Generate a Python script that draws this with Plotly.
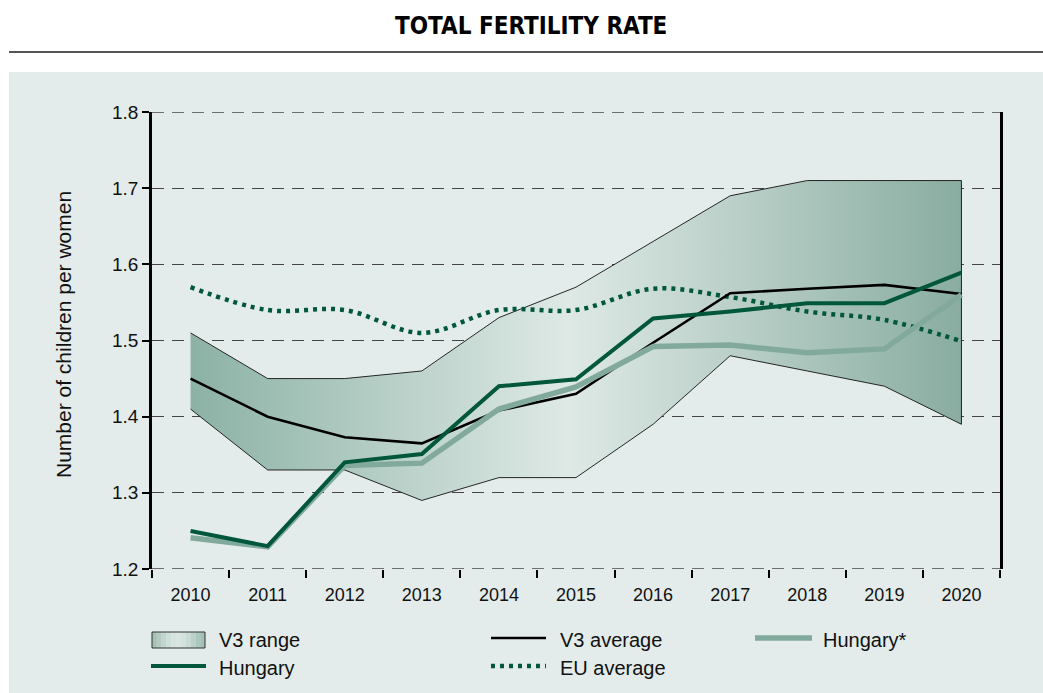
import plotly.graph_objects as go

# ---------------- data ----------------
years = [2010, 2011, 2012, 2013, 2014, 2015, 2016, 2017, 2018, 2019, 2020]
v3_upper = [1.51, 1.45, 1.45, 1.46, 1.53, 1.57, 1.63, 1.69, 1.71, 1.71, 1.71]
v3_lower = [1.41, 1.33, 1.33, 1.29, 1.32, 1.32, 1.39, 1.48, 1.46, 1.44, 1.39]
v3_avg = [1.45, 1.40, 1.373, 1.365, 1.408, 1.43, 1.497, 1.562, 1.568, 1.573, 1.561]
hungary = [1.25, 1.23, 1.34, 1.351, 1.44, 1.449, 1.529, 1.538, 1.549, 1.549, 1.589]
hungary_star = [1.241, 1.229, 1.336, 1.339, 1.41, 1.439, 1.492, 1.494, 1.484, 1.489, 1.56]
eu_avg = [1.57, 1.54, 1.54, 1.51, 1.54, 1.54, 1.568, 1.557, 1.538, 1.527, 1.499]
y_ticks = [1.2, 1.3, 1.4, 1.5, 1.6, 1.7, 1.8]
y_ticklabels = ["1.2", "1.3", "1.4", "1.5", "1.6", "1.7", "1.8"]

title_text = "TOTAL FERTILITY RATE"
y_title = "Number of children per women"
legend_labels = ["V3 range", "V3 average", "Hungary*", "Hungary", "EU average"]

# ---------------- styles ----------------
W, H = 1043, 693
ML, MR, MT, MB = 152, 43, 112, 124
PW, PH = W - ML - MR, H - MT - MB
FONT = "Liberation Sans, Arial, Helvetica, sans-serif"
PANEL = "#e3ecea"
DARK_GREEN = "#00573b"
LIGHT_GREEN = "#82aa9c"
GRID = "#454545"
BAND_SCALE = [[0.0, "#8cb2a5"], [0.49, "#dee9e5"], [1.0, "#89ada0"]]


def px_x(p):
    return (p - ML) / PW


def px_y(p):
    return (H - MB - p) / PH


fig = go.Figure()

# V3 range band
fig.add_trace(go.Scatter(
    x=years + years[::-1],
    y=v3_upper + v3_lower[::-1],
    fill="toself",
    fillgradient=dict(type="horizontal", colorscale=BAND_SCALE,
                      start=years[0], stop=years[-1]),
    line=dict(color="#111111", width=0.9),
    mode="lines", name=legend_labels[0], showlegend=False, hoverinfo="skip",
))

# EU average (dotted, smooth)
fig.add_trace(go.Scatter(
    x=years, y=eu_avg, mode="lines", name=legend_labels[4],
    line=dict(color=DARK_GREEN, width=4.5, dash="4px,5px", shape="spline", smoothing=1.0),
    showlegend=False,
))
# V3 average
fig.add_trace(go.Scatter(
    x=years, y=v3_avg, mode="lines", name=legend_labels[1],
    line=dict(color="#000000", width=2.6), showlegend=False,
))
# Hungary*
fig.add_trace(go.Scatter(
    x=years, y=hungary_star, mode="lines", name=legend_labels[2],
    line=dict(color=LIGHT_GREEN, width=5.5), showlegend=False,
))
# Hungary
fig.add_trace(go.Scatter(
    x=years, y=hungary, mode="lines", name=legend_labels[3],
    line=dict(color=DARK_GREEN, width=4), showlegend=False,
))

shapes = []
# panel background
shapes.append(dict(type="rect", xref="paper", yref="paper",
                   x0=px_x(9), x1=px_x(W + 2), y0=px_y(H + 2), y1=px_y(72),
                   fillcolor=PANEL, line=dict(width=0), layer="below"))
# rule under title
shapes.append(dict(type="line", xref="paper", yref="paper",
                   x0=px_x(9), x1=px_x(W + 2), y0=px_y(52), y1=px_y(52),
                   line=dict(color="#555555", width=2.2)))
# dashed grid lines at the axis limits (Plotly omits them at the edges)
for yv in (y_ticks[0], y_ticks[-1]):
    shapes.append(dict(type="line", xref="paper", yref="y", x0=0, x1=1, y0=yv, y1=yv,
                       line=dict(color=GRID, width=1.3, dash="12px,8px"), layer="below"))

annotations = []
annotations.append(dict(text=title_text, xref="paper", yref="paper",
                        x=px_x(531), y=px_y(26), xanchor="center", yanchor="middle",
                        showarrow=False,
                        font=dict(family="Liberation Sans Narrow, DejaVu Sans Condensed, sans-serif",
                                  size=24, color="#000000", weight="bold")))
annotations.append(dict(text=y_title, xref="paper", yref="paper",
                        x=px_x(63), y=px_y(335), xanchor="center", yanchor="middle",
                        textangle=-90, showarrow=False,
                        font=dict(family=FONT, size=21, color="#111111")))

# ---------------- legend (manual) ----------------
row1, row2 = 640, 668
# gradient box for V3 range
strip_colors = ["#a3c1b6", "#b1cbc2", "#c0d5ce", "#cddfd9", "#d6e4e0", "#d8e5e1",
                "#d3e2dd", "#c9dbd5", "#bbd2ca", "#acc8bd", "#a2c0b5"]
bx0, bx1 = 152, 205
n = len(strip_colors)
for i, c in enumerate(strip_colors):
    shapes.append(dict(type="rect", xref="paper", yref="paper",
                       x0=px_x(bx0 + (bx1 - bx0) * i / n), x1=px_x(bx0 + (bx1 - bx0) * (i + 1) / n),
                       y0=px_y(648), y1=px_y(632), fillcolor=c, line=dict(width=0)))
shapes.append(dict(type="rect", xref="paper", yref="paper",
                   x0=px_x(bx0), x1=px_x(bx1), y0=px_y(648), y1=px_y(632),
                   fillcolor="rgba(0,0,0,0)", line=dict(color="#333333", width=1)))
# Hungary line
shapes.append(dict(type="line", xref="paper", yref="paper",
                   x0=px_x(151), x1=px_x(206), y0=px_y(666), y1=px_y(666),
                   line=dict(color=DARK_GREEN, width=4)))
# V3 average line
shapes.append(dict(type="line", xref="paper", yref="paper",
                   x0=px_x(491), x1=px_x(546), y0=px_y(638), y1=px_y(638),
                   line=dict(color="#000000", width=2.6)))
# EU average dotted
shapes.append(dict(type="line", xref="paper", yref="paper",
                   x0=px_x(491), x1=px_x(546), y0=px_y(666), y1=px_y(666),
                   line=dict(color=DARK_GREEN, width=4.5, dash="4px,5px")))
# Hungary* line
shapes.append(dict(type="line", xref="paper", yref="paper",
                   x0=px_x(755), x1=px_x(812), y0=px_y(638), y1=px_y(638),
                   line=dict(color=LIGHT_GREEN, width=5.5)))

legend_pos = [(217, row1), (558, row1), (821, row1), (217, row2), (558, row2)]
for lab, (lx, ly) in zip(legend_labels, legend_pos):
    annotations.append(dict(text=lab, xref="paper", yref="paper", x=px_x(lx), y=px_y(ly),
                            xanchor="left", yanchor="middle", showarrow=False,
                            font=dict(family=FONT, size=20, color="#111111")))

fig.update_layout(
    width=W, height=H,
    margin=dict(l=ML, r=MR, t=MT, b=MB, pad=0),
    paper_bgcolor="#ffffff",
    plot_bgcolor="rgba(0,0,0,0)",
    showlegend=False,
    shapes=shapes,
    annotations=annotations,
    font=dict(family=FONT, color="#111111"),
)

fig.update_xaxes(
    range=[2009.5, 2020.5],
    tickvals=years, ticktext=[str(y) for y in years],
    ticks="outside", ticklen=9, tickcolor="rgba(0,0,0,0)",
    tickfont=dict(family=FONT, size=18, color="#111111"),
    showgrid=False, zeroline=False, showline=False,
    minor=dict(tickvals=[y - 0.5 for y in years] + [years[-1] + 0.5],
               ticks="outside", ticklen=8, tickwidth=2, tickcolor="#000000", showgrid=False),
)
fig.update_yaxes(
    range=[1.2, 1.8],
    tickvals=y_ticks, ticktext=y_ticklabels,
    ticks="outside", ticklen=7, tickwidth=2, tickcolor="#000000",
    tickfont=dict(family=FONT, size=19, color="#111111"),
    showgrid=True, gridcolor=GRID, gridwidth=1.3, griddash="12px,8px",
    zeroline=False, showline=True, linecolor="#000000", linewidth=2.6, mirror=True,
)

fig.write_html(
    "out.html",
    config={"displayModeBar": False},
    post_script="document.body.style.margin='0';document.body.style.overflow='hidden';",
)
